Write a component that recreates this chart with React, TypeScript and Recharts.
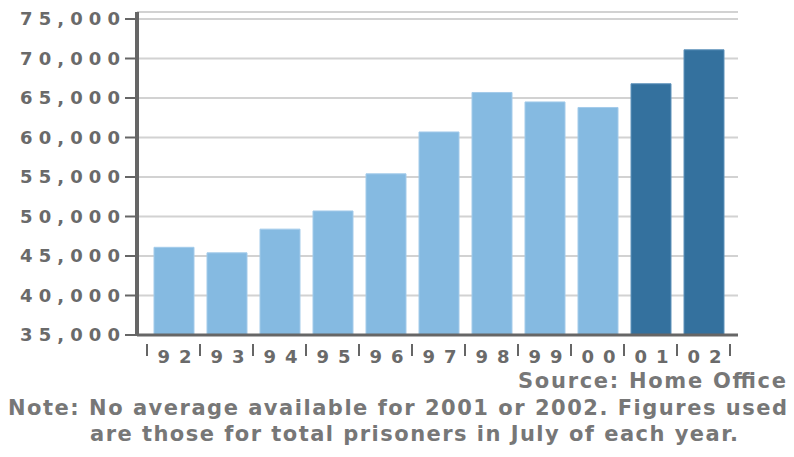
import React from "react";
import { BarChart, Bar, XAxis, YAxis, CartesianGrid, Cell } from "recharts";

// Prison population, England & Wales (average per year, July totals for 01/02)
const years = ["92", "93", "94", "95", "96", "97", "98", "99", "00", "01", "02"];
const prisoners = [46100, 45400, 48400, 50700, 55400, 60700, 65700, 64500, 63800, 66800, 71100];
const julyTotalYears = ["01", "02"];
const yTicks = [35000, 40000, 45000, 50000, 55000, 60000, 65000, 70000, 75000];

const data = years.map((year, i) => ({ year, value: prisoners[i] }));

const LIGHT = "#85bae1";
const DARK = "#34719e";
const AXIS = "#666666";
const TEXT = "#6a6a6a";
const FONT = "'DejaVu Sans', Verdana, sans-serif";

const fmt = (v: number) => v.toLocaleString("en-GB");

const YTick = ({ x, y, payload }: any) => (
  <text
    x={x - 103}
    y={y + 6}
    textLength={100}
    lengthAdjust="spacing"
    fill={TEXT}
    fontFamily={FONT}
    fontWeight="bold"
    fontSize={18}
  >
    {fmt(payload.value)}
  </text>
);

const XTick = ({ x, y, payload, index }: any) => {
  const half = 26.5;
  const last = index === years.length - 1;
  return (
    <g>
      <line x1={x - half} x2={x - half} y1={y + 1} y2={y + 13} stroke={AXIS} strokeWidth={2} />
      {last && <line x1={x + half} x2={x + half} y1={y + 1} y2={y + 13} stroke={AXIS} strokeWidth={2} />}
      <text
        x={x + 1}
        y={y + 20}
        textAnchor="middle"
        textLength={34}
        lengthAdjust="spacing"
        fill={TEXT}
        fontFamily={FONT}
        fontWeight="bold"
        fontSize={18}
      >
        {payload.value}
      </text>
    </g>
  );
};

const App = () => {
  return (
    <div style={{ position: "absolute", left: 0, top: 0, width: 794, height: 457, background: "#fff" }}>
      <BarChart
        width={794}
        height={375}
        data={data}
        margin={{ top: 12, right: 56, left: 0, bottom: 20 }}
      >
        <CartesianGrid vertical={false} stroke="#d2d2d2" strokeWidth={2} />
        <XAxis
          dataKey="year"
          height={20}
          padding={{ left: 10, right: 8 }}
          axisLine={{ stroke: AXIS, strokeWidth: 3 }}
          tickLine={false}
          tickMargin={2}
          tick={<XTick />}
          interval={0}
        />
        <YAxis
          width={137}
          domain={[35000, 75000]}
          ticks={yTicks}
          padding={{ top: 7, bottom: 0 }}
          allowDataOverflow
          axisLine={{ stroke: AXIS, strokeWidth: 4 }}
          tickLine={{ stroke: AXIS, strokeWidth: 2 }}
          tickSize={12}
          tick={<YTick />}
        />
        <Bar dataKey="value" barSize={40} isAnimationActive={false}>
          {data.map((d, i) => (
            <Cell
              key={`bar-${i}`}
              fill={julyTotalYears.includes(d.year) ? DARK : LIGHT}
              stroke={julyTotalYears.includes(d.year) ? "#5f93bb" : "#a3cbea"}
              strokeWidth={1}
            />
          ))}
        </Bar>
      </BarChart>
      <svg
        width={794}
        height={95}
        style={{ position: "absolute", left: 0, top: 362 }}
        fontFamily={FONT}
        fontWeight="bold"
        fill="#777777"
      >
        <text x={518} y={26} fontSize={21} textLength={268} lengthAdjust="spacing">
          Source: Home Office
        </text>
        <text x={8} y={53} fontSize={21} textLength={779} lengthAdjust="spacing">
          Note: No average available for 2001 or 2002. Figures used
        </text>
        <text x={90} y={79} fontSize={21} textLength={648} lengthAdjust="spacing">
          are those for total prisoners in July of each year.
        </text>
      </svg>
    </div>
  );
};

export default App;
